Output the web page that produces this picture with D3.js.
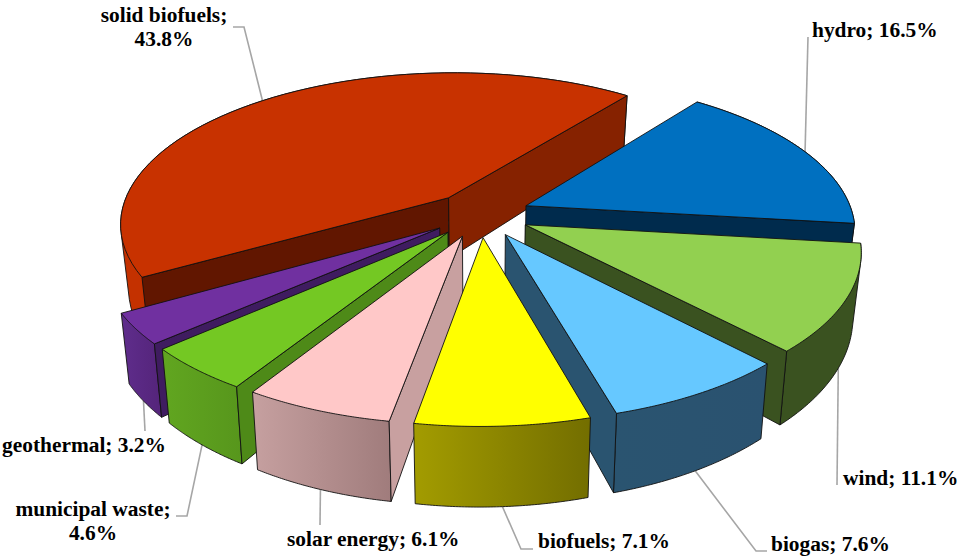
<!DOCTYPE html>
<html>
<head>
<meta charset="utf-8">
<style>
  html, body { margin: 0; background: #fff; }
  svg { display: block; }
  text { font-family: "Liberation Serif", serif; font-weight: bold; font-size: 21.4px; fill: #000; }
</style>
<script src="https://cdn.jsdelivr.net/npm/d3@7"></script>
</head>
<body>
<svg id="chart" width="958" height="556"></svg>
<script>
// Data, clockwise from the hydro slice
const categories = ['hydro', 'wind', 'biogas', 'biofuels', 'solar energy', 'municipal waste', 'geothermal', 'solid biofuels'];
const values = [16.5, 11.1, 7.6, 7.1, 6.1, 4.6, 3.2, 43.8];

// Top face, outer wall (left and right of gradient), radial wall at slice start / end
const topColors = ['#0070c0', '#92d050', '#66c8ff', '#ffff00', '#ffc8c8', '#74c823', '#7030a0', '#c83200'];
const wallLeft = ['#002b4d', '#3a5220', '#2a5470', '#a39c00', '#c6a0a0', '#61a620', '#5f2d8c', '#c43100'];
const wallRight = ['#002b4d', '#3a5220', '#2a5270', '#736e00', '#a07c7c', '#57961c', '#54247a', '#c43100'];
const startWall = ['#002b4d', '#3a5220', '#2a5470', '#a39c00', '#c8a0a0', '#4e8a18', '#3f1c60', '#611600'];
const endWall = ['#002b4d', '#3a5220', '#2a5470', '#a39c00', '#c8a0a0', '#4e8a18', '#3f1c60', '#862200'];

// Back to front
const drawOrder = ['solid biofuels', 'hydro', 'wind', 'geothermal', 'municipal waste', 'biogas', 'solar energy', 'biofuels'];

// Label placement: text lines, anchor, leader points after the rim anchor
const labelLayout = {
  'solid biofuels': { lines: [['solid biofuels;', 164, 22], ['43.8%', 164, 46]], anchor: 'middle', z: 0, leader: [[244, 27], [233, 27]] },
  'hydro': { lines: [['hydro; 16.5%', 812, 37]], anchor: 'start', z: 0, leader: [[808, 37]] },
  'wind': { lines: [['wind; 11.1%', 843, 485]], anchor: 'start', z: 1, leader: [[837, 485]] },
  'biogas': { lines: [['biogas; 7.6%', 771, 551]], anchor: 'start', z: 1, leader: [[756, 551], [767, 551]] },
  'biofuels': { lines: [['biofuels; 7.1%', 538, 548]], anchor: 'start', z: 1, leader: [[521, 549], [533, 549]] },
  'solar energy': { lines: [['solar energy; 6.1%', 287, 546]], anchor: 'start', z: 1, leader: [[320, 525]] },
  'municipal waste': { lines: [['municipal waste;', 93, 516], ['4.6%', 93, 540]], anchor: 'middle', z: 1, leader: [[187, 516], [176, 516]] },
  'geothermal': { lines: [['geothermal; 3.2%', 2, 452]], anchor: 'start', z: 1, leader: [[145, 431]] }
};

// Fitted perspective of the pie plane
const view = { cx: 480.62, cy: 214.47, rx: 327.73, skewX: 7.25, ry: 149.97, skewY: -4.33, tilt: 0.1609, yaw: 0.0065 };
const explode = 0.1513;
const firstAngle = 0.6808;
const depth = 62;
const depthPower = 1.28;
const bottomShrink = 0.978;

const svg = d3.select('#chart');
const defs = svg.append('defs');

const arcs = d3.pie().sort(null).startAngle(firstAngle).endAngle(firstAngle + 2 * Math.PI)(values);

// Project a plane point, z = 0 top face, z = 1 bottom face
function project(u, v, z) {
  const s = 1 / (1 - view.tilt * v + view.yaw * u);
  const x = (view.rx * u + view.skewX * v) * s;
  const y = (view.ry * v + view.skewY * u) * s;
  if (!z) return [view.cx + x, view.cy + y];
  return [view.cx + x * bottomShrink, view.cy + y + depth * Math.pow(s, depthPower)];
}

function clockwiseOnScreen(p) {
  const a = [p[1][0] - p[0][0], p[1][1] - p[0][1]];
  const b = [p[2][0] - p[1][0], p[2][1] - p[1][1]];
  return a[0] * b[1] - a[1] * b[0] > 0;
}

const line = d3.line();
const closed = pts => line(pts) + 'Z';

// Leaders sit under the slices
const leaders = svg.append('g');
const slices = svg.append('g');
const labels = svg.append('g');

drawOrder.forEach(name => {
  const i = categories.indexOf(name);
  const d = arcs[i];
  const mid = (d.startAngle + d.endAngle) / 2;
  const ox = explode * Math.sin(mid);
  const oy = -explode * Math.cos(mid);
  const rim = (t, z) => project(ox + Math.sin(t), oy - Math.cos(t), z);
  const tip = z => project(ox, oy, z);
  const steps = d3.range(0, 61).map(k => d.startAngle + (d.endAngle - d.startAngle) * k / 60);

  const gradientId = `wall-${i}`;
  const gradient = defs.append('linearGradient').attr('id', gradientId);
  gradient.append('stop').attr('offset', 0).attr('stop-color', wallLeft[i]);
  gradient.append('stop').attr('offset', 1).attr('stop-color', wallRight[i]);

  const g = slices.append('g').attr('stroke', '#111').attr('stroke-width', 0.9).attr('stroke-linejoin', 'round');

  // Outer wall: the hull keeps the silhouette edge between the two rims
  g.append('path')
    .attr('d', closed(d3.polygonHull(steps.map(t => rim(t, 0)).concat(steps.map(t => rim(t, 1))))))
    .attr('fill', `url(#${gradientId})`);

  // Radial walls, only when they face the viewer
  const startQuad = [tip(0), rim(d.startAngle, 0), rim(d.startAngle, 1), tip(1)];
  const endQuad = [tip(0), rim(d.endAngle, 0), rim(d.endAngle, 1), tip(1)];
  if (!clockwiseOnScreen(startQuad)) g.append('path').attr('d', closed(startQuad)).attr('fill', startWall[i]);
  if (clockwiseOnScreen(endQuad)) g.append('path').attr('d', closed(endQuad)).attr('fill', endWall[i]);

  // Top face
  g.append('path')
    .attr('d', closed([tip(0)].concat(steps.map(t => rim(t, 0)))))
    .attr('fill', topColors[i]);

  // Leader and label
  const layout = labelLayout[name];
  leaders.append('path')
    .attr('d', line([rim(mid, layout.z)].concat(layout.leader)))
    .attr('fill', 'none')
    .attr('stroke', '#a6a6a6')
    .attr('stroke-width', 1.6);

  layout.lines.forEach(l => {
    labels.append('text')
      .attr('x', l[1])
      .attr('y', l[2])
      .attr('text-anchor', layout.anchor)
      .text(l[0]);
  });
});
</script>
</body>
</html>
